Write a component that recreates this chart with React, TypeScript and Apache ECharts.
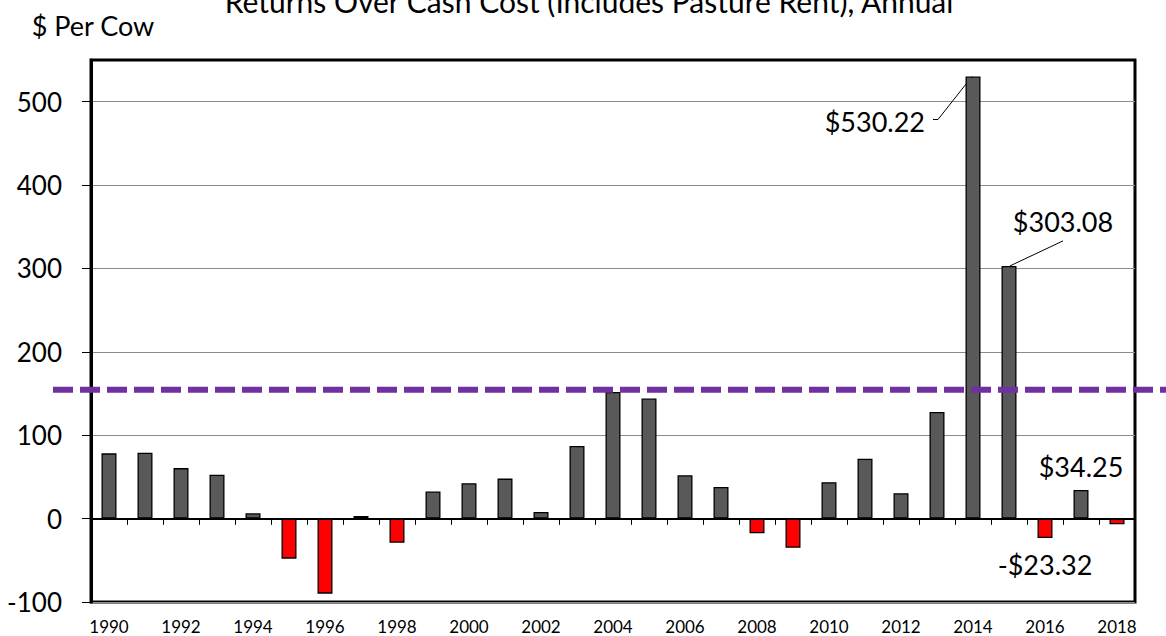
import React, { useEffect, useRef } from "react";
import * as echarts from "echarts";

const years = [
  "1990", "1991", "1992", "1993", "1994", "1995", "1996", "1997", "1998", "1999",
  "2000", "2001", "2002", "2003", "2004", "2005", "2006", "2007", "2008", "2009",
  "2010", "2011", "2012", "2013", "2014", "2015", "2016", "2017", "2018",
];
const returnsPerCow = [
  78.3, 79, 60.6, 52.6, 6.4, -48, -90, 3.2, -29, 32.5,
  42.5, 48, 8, 87, 151.8, 144, 52, 38, -17.7, -35,
  43.7, 71.9, 30.5, 128, 530.22, 303.08, -23.32, 34.25, -6.8,
];
const yTickValues = [-100, 0, 100, 200, 300, 400, 500];
const referenceLevel = 154.6;
const titleText = "Returns Over Cash Cost (Includes Pasture Rent), Annual";
const unitText = "$ Per Cow";
const labelAboveYears = ["2017"];
const labelBelowYears = ["2016"];
const leaderLeftYear = "2014";
const leaderRightYear = "2015";

const FONT = "Lato";
const POS_COLOR = "#595959";
const NEG_COLOR = "#FF0000";

const fmt = (v: number) => (v < 0 ? "-$" + Math.abs(v).toFixed(2) : "$" + v.toFixed(2));

export default function App() {
  const ref = useRef<HTMLDivElement>(null);

  useEffect(() => {
    if (!ref.current) return;
    const chart = echarts.init(ref.current, null, { renderer: "svg" });

    const data = returnsPerCow.map((v, i) => {
      const item: any = {
        value: v,
        itemStyle: { color: v < 0 ? NEG_COLOR : POS_COLOR },
      };
      if (labelAboveYears.includes(years[i])) {
        item.label = {
          show: true,
          position: "top",
          distance: 10,
          formatter: fmt(v),
          fontFamily: FONT,
          fontSize: 27,
          color: "#000",
        };
      }
      if (labelBelowYears.includes(years[i])) {
        item.label = {
          show: true,
          position: "bottom",
          distance: 13,
          formatter: fmt(v),
          fontFamily: FONT,
          fontSize: 27,
          color: "#000",
        };
      }
      return item;
    });

    chart.setOption({
      animation: false,
      grid: {
        left: 91,
        right: 31,
        top: 60,
        bottom: 34,
        containLabel: false,
        outerBoundsMode: "none",
        show: true,
        borderColor: "#000",
        borderWidth: 3,
        backgroundColor: "transparent",
      },
      xAxis: [
        {
          type: "category",
          data: years,
          position: "bottom",
          boundaryGap: true,
          axisLine: { show: true, onZero: true, lineStyle: { color: "#000", width: 2 } },
          axisTick: { show: true, length: 6, interval: 0, lineStyle: { color: "#000", width: 1 } },
          axisLabel: { show: false },
          splitLine: { show: false },
        },
        {
          type: "category",
          data: years,
          position: "bottom",
          boundaryGap: true,
          axisLine: { show: false, onZero: false },
          axisTick: { show: false },
          axisLabel: {
            interval: 1,
            margin: 16,
            fontFamily: FONT,
            fontSize: 17,
            color: "#000",
          },
          splitLine: { show: false },
        },
      ],
      yAxis: {
        type: "value",
        min: -100,
        max: 550,
        interval: 100,
        axisLine: { show: true, lineStyle: { color: "#000", width: 3 } },
        axisTick: {
          show: true,
          length: 9,
          customValues: yTickValues,
          lineStyle: { color: "#000", width: 1 },
        },
        axisLabel: {
          customValues: yTickValues,
          margin: 29,
          fontFamily: FONT,
          fontSize: 26,
          color: "#000",
        },
        splitLine: { show: true, lineStyle: { color: "#8c8c8c", width: 1 } },
      },
      series: [
        {
          type: "bar",
          xAxisIndex: 0,
          yAxisIndex: 0,
          data,
          barWidth: 15,
          itemStyle: { borderColor: "#000", borderWidth: 1.3 },
        },
      ],
    });

    const px = (idx: number, v: number) =>
      chart.convertToPixel({ xAxisIndex: 0, yAxisIndex: 0 }, [idx, v]) as number[];

    const refY = chart.convertToPixel({ yAxisIndex: 0 }, referenceLevel) as number;
    const i14 = years.indexOf(leaderLeftYear);
    const i15 = years.indexOf(leaderRightYear);
    const p14 = px(i14, returnsPerCow[i14]);
    const p15 = px(i15, returnsPerCow[i15]);

    const zeroTicks: any[] = [];
    for (let i = 0; i < years.length - 1; i++) {
      const a = px(i, 0);
      const b = px(i + 1, 0);
      const x = Math.round((a[0] + b[0]) / 2) + 0.5;
      zeroTicks.push({
        type: "line",
        z: 50,
        shape: { x1: x, y1: a[1], x2: x, y2: a[1] + 6 },
        style: { stroke: "#000", lineWidth: 1 },
      });
    }

    chart.setOption({
      graphic: [
        {
          type: "text",
          x: 589,
          y: 1,
          style: {
            text: titleText,
            fontFamily: FONT,
            fontSize: 30,
            fill: "#000",
            align: "center",
            verticalAlign: "middle",
          },
        },
        {
          type: "text",
          x: 93,
          y: 25,
          style: {
            text: unitText,
            fontFamily: FONT,
            fontSize: 27,
            fill: "#000",
            align: "center",
            verticalAlign: "middle",
          },
        },
        ...zeroTicks,
        {
          type: "line",
          z: 100,
          shape: { x1: 53, y1: refY, x2: 1166, y2: refY },
          style: { stroke: "#7030A0", lineWidth: 6, lineDash: [20, 7] },
        },
        {
          type: "text",
          x: p14[0] - 48,
          y: p14[1] + 45,
          style: {
            text: fmt(returnsPerCow[i14]),
            fontFamily: FONT,
            fontSize: 27,
            fill: "#000",
            align: "right",
            verticalAlign: "middle",
          },
        },
        {
          type: "polyline",
          shape: {
            points: [
              [p14[0] - 40, p14[1] + 43],
              [p14[0] - 35, p14[1] + 43],
              [p14[0] - 1, p14[1]],
            ],
          },
          style: { stroke: "#000", lineWidth: 1, fill: null },
        },
        {
          type: "text",
          x: p15[0] + 54,
          y: p15[1] - 44,
          style: {
            text: fmt(returnsPerCow[i15]),
            fontFamily: FONT,
            fontSize: 27,
            fill: "#000",
            align: "center",
            verticalAlign: "middle",
          },
        },
        {
          type: "line",
          shape: { x1: p15[0] + 54, y1: p15[1] - 25, x2: p15[0] + 1, y2: p15[1] },
          style: { stroke: "#000", lineWidth: 1 },
        },
      ],
    });

    return () => chart.dispose();
  }, []);

  return (
    <div
      ref={ref}
      style={{ position: "absolute", left: 0, top: 0, width: 1166, height: 636, background: "#fff" }}
    />
  );
}
